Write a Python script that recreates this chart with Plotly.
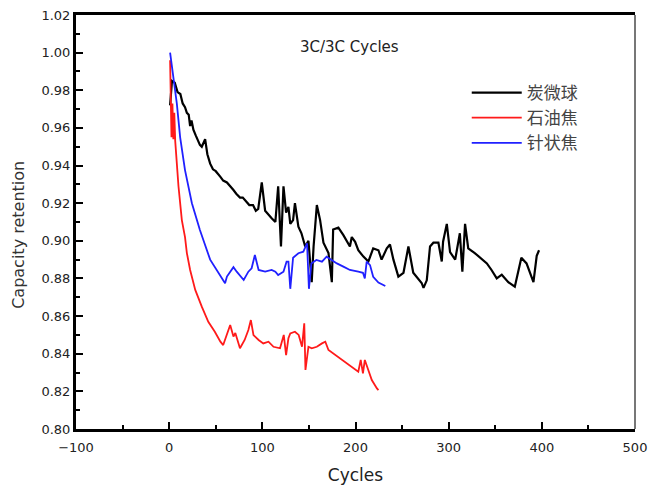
import plotly.graph_objects as go

# ---- data ----
series_names = ["炭微球", "石油焦", "针状焦"]

carbon_cycles = [1, 3, 6, 9, 12, 14.5, 17, 19, 21, 22.5, 24, 26, 28.5, 31, 33, 35, 38.6, 41, 44, 47, 50,
                 55, 58, 62, 65, 69, 72, 76, 79, 83, 86, 90, 93, 95.6,
                 99.4, 103, 106, 110, 114, 117, 120, 122.7, 125.5, 128, 130, 133, 135, 138.7, 142, 146, 149.5,
                 153, 155, 158.5, 162, 165.6, 171, 174.6, 176, 181.6, 187, 190.6, 194, 196, 199.6, 203,
                 208.5, 213.8, 219, 224.6, 228, 233.6, 237, 240.7, 246, 251.5, 256.8, 262, 267.5, 271,
                 273, 276.5, 280, 283.6, 289, 292.6, 294, 298, 301.5, 307, 312, 314.7, 317.6, 321, 328,
                 333.7, 341, 346, 351.6, 357, 364, 371, 378, 383.6, 391, 394.5, 397]
carbon_values = [0.972, 0.985, 0.984, 0.979, 0.978, 0.973, 0.971, 0.968, 0.967, 0.961, 0.964, 0.959,
                 0.956, 0.953, 0.951, 0.950, 0.954,
                 0.946, 0.941, 0.938, 0.937, 0.934, 0.932, 0.931, 0.929, 0.927, 0.925, 0.923, 0.923, 0.921,
                 0.919, 0.919, 0.916, 0.917, 0.931, 0.916, 0.914,
                 0.912, 0.910, 0.929, 0.897, 0.929, 0.915, 0.918, 0.909, 0.911, 0.920, 0.9075, 0.904,
                 0.897, 0.900, 0.878, 0.897, 0.919, 0.911, 0.899, 0.8935, 0.878, 0.906, 0.907, 0.903,
                 0.900, 0.897, 0.902, 0.8995, 0.895, 0.8916, 0.889, 0.896, 0.895, 0.890, 0.896, 0.898,
                 0.890, 0.881, 0.883, 0.897, 0.883, 0.880, 0.8776, 0.875, 0.879, 0.897, 0.899, 0.899,
                 0.889, 0.8995, 0.909, 0.894, 0.890, 0.904, 0.8836, 0.909, 0.896, 0.8935, 0.891, 0.888,
                 0.8845, 0.880, 0.882, 0.878, 0.8756, 0.891, 0.888, 0.878, 0.892, 0.895]

coke_cycles = [1, 2.5, 3.5, 4.5, 5.5, 6.5, 10, 13.6, 17, 19, 22.5, 28, 35, 42, 49, 55, 58, 62, 65.5, 69,
               71, 76, 81, 85, 87.7, 90.5, 96, 101, 106.6, 112, 119, 123, 125.5, 128, 130, 135, 139,
               142.6, 145, 146.3, 149.5, 153, 158.5, 164, 167.6, 171, 176, 183.6, 191, 198, 203, 205.6,
               208, 210, 213.8, 217.5, 223, 224.6]
coke_values = [0.996, 0.955, 0.973, 0.954, 0.968, 0.953, 0.929, 0.911, 0.902, 0.8935, 0.8845, 0.8739,
               0.865, 0.857, 0.8517, 0.8464, 0.8446, 0.8508, 0.8553, 0.8491, 0.851, 0.8429, 0.8473,
               0.8526, 0.8579, 0.8499, 0.8473, 0.8455, 0.8464, 0.8437, 0.8429, 0.850, 0.8393, 0.8482,
               0.8508, 0.8517, 0.850, 0.8437, 0.8562, 0.8314, 0.8437, 0.8429, 0.8437, 0.8455, 0.8464,
               0.842, 0.8402, 0.8376, 0.8349, 0.8322, 0.8304, 0.8367, 0.8296, 0.8367, 0.8314, 0.826,
               0.8216, 0.8207]

needle_cycles = [1, 4.6, 8.2, 11.8, 17, 24.4, 33, 44, 51, 60, 62, 69, 72.5, 80, 85, 88.5, 92, 96, 103,
                 110, 114, 117, 122.7, 126, 128, 130, 133, 138.7, 144, 148, 150, 152.6, 158, 164, 169,
                 174.6, 180, 187, 194, 203, 208, 210, 212, 215.6, 219, 224.6, 232]
needle_values = [1.000, 0.987, 0.973, 0.955, 0.9376, 0.920, 0.9057, 0.890, 0.8845, 0.8774, 0.881,
                 0.886, 0.8836, 0.8792, 0.8836, 0.8854, 0.8925, 0.8845, 0.8836, 0.8845, 0.8836,
                 0.8818, 0.8836, 0.8889, 0.8889, 0.8745, 0.8910, 0.8934, 0.8942, 0.8987, 0.8745,
                 0.888, 0.8898, 0.8889, 0.8916, 0.8898, 0.888, 0.8863, 0.8845, 0.8836, 0.8830, 0.880,
                 0.8889, 0.8871, 0.8809, 0.8778, 0.876]

x_ticks = [-100, 0, 100, 200, 300, 400, 500]
y_ticks = [0.80, 0.82, 0.84, 0.86, 0.88, 0.90, 0.92, 0.94, 0.96, 0.98, 1.00, 1.02]
y_tick_text = [f"{v:.2f}" for v in y_ticks]

fig = go.Figure()
fig.add_trace(go.Scatter(x=carbon_cycles, y=carbon_values, mode="lines", name=series_names[0],
                         line=dict(color="#000000", width=2.2)))
fig.add_trace(go.Scatter(x=coke_cycles, y=coke_values, mode="lines", name=series_names[1],
                         line=dict(color="#ff1a1a", width=1.8)))
fig.add_trace(go.Scatter(x=needle_cycles, y=needle_values, mode="lines", name=series_names[2],
                         line=dict(color="#2020ff", width=1.8)))

tick_font = dict(family="DejaVu Sans", size=13, color="#222222")

fig.update_layout(
    width=651, height=485,
    margin=dict(l=76, r=16, t=15, b=56, autoexpand=False),
    paper_bgcolor="white", plot_bgcolor="white",
    showlegend=True,
    legend=dict(x=0.699, y=0.855, xanchor="left", yanchor="top",
                bgcolor="rgba(0,0,0,0)", borderwidth=0,
                font=dict(family="Noto Sans CJK SC", size=17, color="#444444"),
                tracegroupgap=0, itemwidth=50),
    xaxis=dict(range=[-100, 500], tickmode="array", tickvals=x_ticks, automargin=False,
               ticks="inside", ticklen=7, tickwidth=2, tickcolor="black", ticklabelstandoff=4,
               ticklabeloverflow="allow",
               minor=dict(dtick=50, tick0=0, ticks="inside", ticklen=4, tickwidth=2, tickcolor="black"),
               showline=True, linecolor="black", linewidth=3, mirror=True,
               showgrid=False, zeroline=False, tickfont=tick_font,
               title=dict(text="Cycles", font=dict(family="DejaVu Sans", size=17, color="#222222"),
                          standoff=27)),
    yaxis=dict(range=[0.80, 1.02], tickmode="array", tickvals=y_ticks, ticktext=y_tick_text,
               automargin=False, ticklabeloverflow="allow",
               ticks="inside", ticklen=7, tickwidth=2, tickcolor="black",
               minor=dict(dtick=0.01, tick0=0.8, ticks="inside", ticklen=4, tickwidth=2, tickcolor="black"),
               showline=True, linecolor="black", linewidth=3, mirror=False,
               showgrid=False, zeroline=False, tickfont=tick_font),
    shapes=[dict(type="line", xref="paper", yref="paper", x0=1, x1=1, y0=0, y1=1,
                 line=dict(color="#777777", width=2))],
    annotations=[
        dict(text="3C/3C Cycles", xref="paper", yref="paper", x=0.49, y=0.923,
             xanchor="center", yanchor="middle",
             showarrow=False, font=dict(family="DejaVu Sans", size=15, color="#222222")),
        dict(text="Capacity retention", xref="paper", yref="paper", x=-0.102, y=0.469,
             xanchor="center", yanchor="middle",
             textangle=-90, showarrow=False,
             font=dict(family="DejaVu Sans", size=16, color="#333333")),
    ],
)

fig.write_html("out.html",
               config={"displayModeBar": False},
               post_script="document.body.style.margin='0';document.body.style.overflow='hidden';")
